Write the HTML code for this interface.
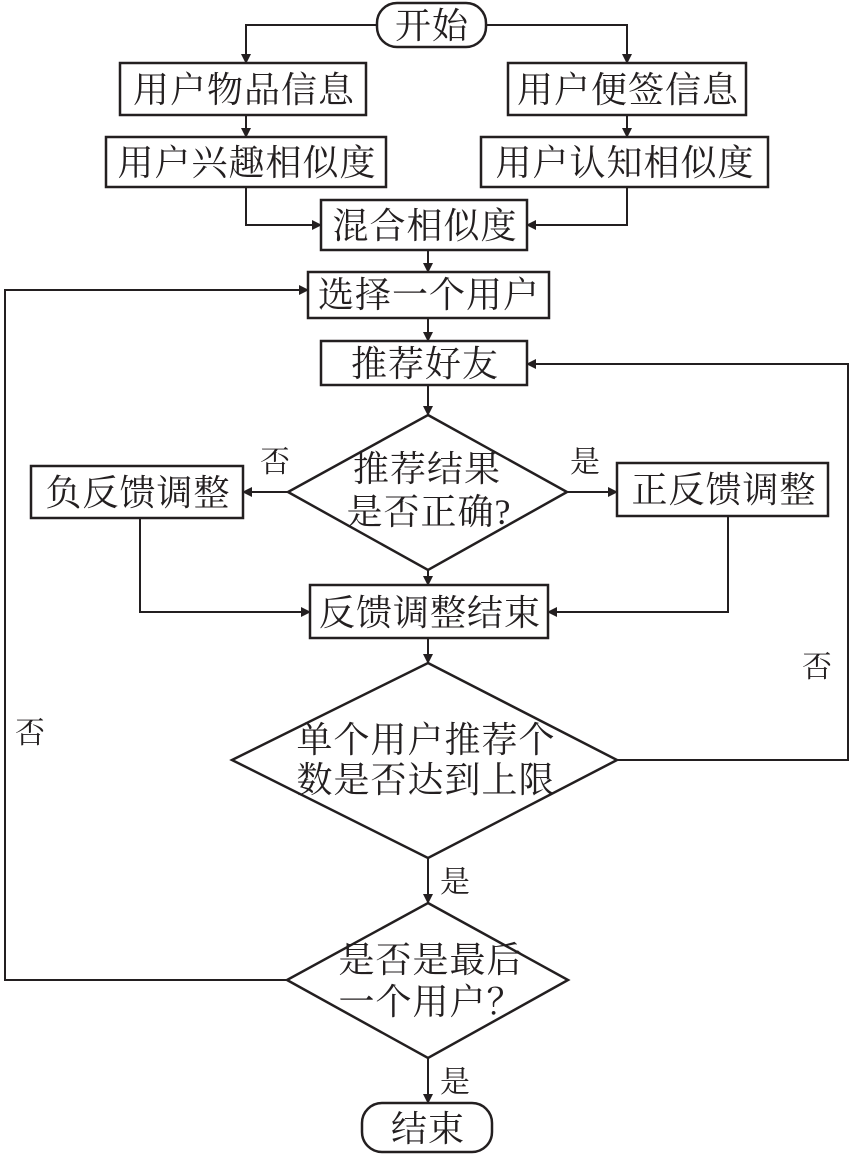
<!DOCTYPE html>
<html><head><meta charset="utf-8"><style>
html,body{margin:0;padding:0;background:#fff;}
svg text{font-family:"Liberation Serif","Noto Serif CJK SC",serif;fill:#231f20;}
</style></head><body>
<svg width="850" height="1156" viewBox="0 0 850 1156" xmlns="http://www.w3.org/2000/svg">
<defs><marker id="a" markerWidth="10" markerHeight="10" refX="9" refY="5" orient="auto" markerUnits="userSpaceOnUse"><path d="M0,0 L10,5 L0,10 z" fill="#231f20"/></marker></defs>
<g stroke="#231f20" stroke-width="2.5" fill="none">
<rect x="377" y="3" width="109" height="44" rx="20"/>
<rect x="120" y="63" width="246" height="52"/>
<rect x="508" y="63" width="238" height="52"/>
<rect x="106" y="137" width="280" height="50"/>
<rect x="481" y="137" width="287" height="50"/>
<rect x="321" y="200" width="206" height="50"/>
<rect x="308" y="272" width="241" height="46"/>
<rect x="321" y="341" width="206" height="44"/>
<polygon points="428,415 567,492 428,570 288,492"/>
<rect x="31" y="466" width="212" height="52"/>
<rect x="617" y="463" width="211" height="53"/>
<rect x="310" y="585" width="238" height="53"/>
<polygon points="428,663 617,760 428,858 232,760"/>
<polygon points="428,903 568,980 428,1058 287,980"/>
<rect x="362" y="1103" width="130" height="49" rx="20"/>
</g>
<g stroke="#231f20" stroke-width="2" fill="none" marker-end="url(#a)">
<polyline points="377,25 246,25 246,63"/>
<polyline points="486,25 627,25 627,63"/>
<line x1="246" y1="115" x2="246" y2="137"/>
<line x1="627" y1="115" x2="627" y2="137"/>
<polyline points="246,187 246,225 321,225"/>
<polyline points="627,187 627,225 527,225"/>
<line x1="428" y1="250" x2="428" y2="272"/>
<line x1="428" y1="318" x2="428" y2="341"/>
<line x1="428" y1="385" x2="428" y2="415"/>
<line x1="288" y1="492" x2="243" y2="492"/>
<line x1="567" y1="492" x2="617" y2="492"/>
<line x1="428" y1="570" x2="428" y2="585"/>
<polyline points="140,518 140,612 310,612"/>
<polyline points="728,516 728,612 548,612"/>
<line x1="428" y1="638" x2="428" y2="663"/>
<polyline points="617,760 848,760 848,364 527,364"/>
<line x1="428" y1="858" x2="428" y2="903"/>
<polyline points="287,980 5,980 5,290 308,290"/>
<line x1="428" y1="1058" x2="428" y2="1103"/>
</g>
<g font-size="36" text-anchor="middle" letter-spacing="1">
<text x="432" y="38">开始</text>
<text x="244" y="102">用户物品信息</text>
<text x="628" y="102">用户便签信息</text>
<text x="247" y="175">用户兴趣相似度</text>
<text x="625" y="175">用户认知相似度</text>
<text x="425" y="238">混合相似度</text>
<text x="429" y="307">选择一个用户</text>
<text x="425" y="376">推荐好友</text>
<text x="427" y="481">推荐结果</text>
<text x="429" y="524">是否正确?</text>
<text x="138" y="505">负反馈调整</text>
<text x="724" y="502">正反馈调整</text>
<text x="430" y="625">反馈调整结束</text>
<text x="426" y="752">单个用户推荐个</text>
<text x="426" y="792">数是否达到上限</text>
<text x="431" y="972">是否是最后</text>
<text x="431" y="1014">一个用户？</text>
<text x="428" y="1141">结束</text>
</g>
<g font-size="30" text-anchor="middle">
<text x="275" y="472">否</text>
<text x="585" y="472">是</text>
<text x="817" y="677">否</text>
<text x="30" y="743">否</text>
<text x="455" y="892">是</text>
<text x="455" y="1092">是</text>
</g>
</svg>
</body></html>
